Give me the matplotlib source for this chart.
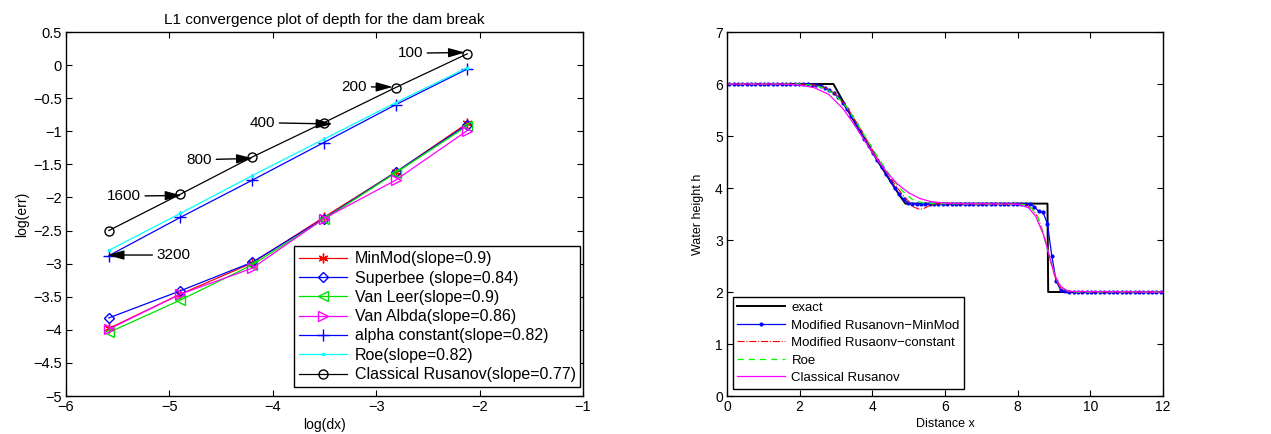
import numpy as np
import matplotlib
matplotlib.use("Agg")
import matplotlib.pyplot as plt

plt.rcParams['font.family'] = ['Liberation Sans', 'DejaVu Sans']
plt.rcParams['axes.unicode_minus'] = True

# ---------------- convergence data ----------------
cells = [100, 200, 400, 800, 1600, 3200]
log_dx = [-2.120, -2.813, -3.507, -4.200, -4.893, -5.586]

err_minmod = [-0.88, -1.62, -2.30, -2.99, -3.46, -3.98]
err_superbee = [-0.90, -1.62, -2.32, -2.98, -3.41, -3.82]
err_vanleer = [-0.92, -1.63, -2.33, -3.02, -3.55, -4.04]
err_vanalbda = [-0.99, -1.74, -2.32, -3.07, -3.46, -3.99]
err_alpha = [-0.06, -0.60, -1.17, -1.74, -2.30, -2.88]
err_roe = [-0.04, -0.57, -1.12, -1.67, -2.24, -2.80]
err_rusanov = [0.17, -0.34, -0.87, -1.39, -1.95, -2.50]

conv_labels = ["MinMod(slope=0.9)", "Superbee (slope=0.84)", "Van Leer(slope=0.9)",
               "Van Albda(slope=0.86)", "alpha constant(slope=0.82)", "Roe(slope=0.82)",
               "Classical Rusanov(slope=0.77)"]

# annotation text positions (log(dx), log(err)) for each mesh label
ann_text = ["100", "200", "400", "800", "1600", "3200"]
ann_text_xy = [(-2.67, 0.18), (-3.21, -0.33), (-4.10, -0.87), (-4.71, -1.43),
               (-5.44, -1.98), (-4.96, -2.87)]
ann_target_xy = [(-2.14, 0.19), (-2.84, -0.33), (-3.42, -0.89), (-4.19, -1.41),
                 (-4.88, -1.97), (-5.60, -2.87)]

# ---------------- dam break profiles ----------------
exact_x = [0.0, 2.93, 3.30, 3.60, 3.90, 4.20, 4.50, 4.75, 4.91, 8.82, 8.84, 12.0]
exact_h = [6.0, 6.0, 5.53, 5.16, 4.81, 4.46, 4.13, 3.86, 3.70, 3.70, 2.0, 2.0]

minmod_x = list(np.round(0.06 + 0.12 * np.arange(100), 2))
minmod_h = ([6.0] * 19 +
            [5.99, 5.98, 5.96, 5.93, 5.88, 5.82, 5.75, 5.64, 5.51, 5.38,
             5.24, 5.09, 4.95, 4.81, 4.67, 4.53, 4.40, 4.26, 4.13, 4.00,
             3.88, 3.78, 3.72, 3.70] +
            [3.70] * 26 +
            [3.69, 3.64, 3.55, 3.53, 3.31, 2.69, 2.21, 2.04, 2.01] +
            [2.0] * 22)

const_x = [0.0, 2.0, 2.4, 2.7, 3.0, 3.3, 3.6, 3.9, 4.2, 4.5, 4.8, 5.0, 5.15, 5.3,
           5.4, 5.6, 5.8, 8.2, 8.4, 8.55, 8.7, 8.8, 8.9, 9.0, 9.1, 9.2, 9.35, 9.5, 12.0]
const_h = [6.0, 6.0, 5.98, 5.93, 5.80, 5.56, 5.22, 4.86, 4.50, 4.18, 3.90, 3.74, 3.63,
           3.59, 3.60, 3.67, 3.70, 3.69, 3.60, 3.45, 3.15, 2.90, 2.60, 2.35, 2.17,
           2.07, 2.02, 2.0, 2.0]

roe_x = [0.0, 2.0, 2.4, 2.7, 3.0, 3.3, 3.6, 3.9, 4.2, 4.5, 4.8, 5.1, 5.4, 5.7,
         8.2, 8.4, 8.55, 8.7, 8.8, 8.9, 9.0, 9.1, 9.2, 9.35, 9.5, 12.0]
roe_h = [6.0, 6.0, 5.97, 5.92, 5.78, 5.55, 5.22, 4.88, 4.54, 4.23, 3.96, 3.78, 3.71,
         3.70, 3.68, 3.60, 3.45, 3.12, 2.88, 2.62, 2.38, 2.20, 2.09, 2.03, 2.0, 2.0]

rus_x = [0.0, 1.5, 2.0, 2.4, 2.8, 3.2, 3.5, 3.8, 4.1, 4.4, 4.7, 5.0, 5.3, 5.6, 6.0,
         6.5, 8.0, 8.3, 8.5, 8.7, 8.8, 8.9, 9.0, 9.1, 9.2, 9.35, 9.5, 12.0]
rus_h = [6.0, 6.0, 5.98, 5.93, 5.80, 5.52, 5.22, 4.90, 4.58, 4.30, 4.07, 3.91, 3.80,
         3.74, 3.71, 3.70, 3.69, 3.62, 3.45, 3.12, 2.88, 2.62, 2.38, 2.20, 2.10,
         2.03, 2.01, 2.0]

dam_labels = ["exact", "Modified Rusanovn\u2212MinMod", "Modified Rusaonv\u2212constant",
              "Roe", "Classical Rusanov"]

# ---------------- figure ----------------
fig = plt.figure(figsize=(12.71, 4.34), dpi=100)
ax1 = fig.add_axes([66 / 1271, 38 / 434, (583 - 66) / 1271, (396 - 32) / 434])
ax2 = fig.add_axes([727 / 1271, 38 / 434, (1163 - 727) / 1271, (396 - 32) / 434])

for ax, fs in ((ax1, 10.5), (ax2, 10)):
    ax.tick_params(direction='in', top=True, right=True, labelsize=fs,
                   length=4, width=0.8, pad=3)
    for s in ax.spines.values():
        s.set_linewidth(1.0)

lw = 0.9
ax1.plot(log_dx, err_minmod, color='#ff0000', marker=(6, 2, 0), ms=7, lw=lw,
         label=conv_labels[0])
ax1.plot(log_dx, err_superbee, color='#0000ff', marker='D', ms=5.5, mfc='none', lw=lw,
         label=conv_labels[1])
ax1.plot(log_dx, err_vanleer, color='#00e000', marker='<', ms=7, mfc='none', lw=lw,
         label=conv_labels[2])
ax1.plot(log_dx, err_vanalbda, color='#ff00ff', marker='>', ms=7, mfc='none', lw=lw,
         label=conv_labels[3])
ax1.plot(log_dx, err_alpha, color='#0000ff', marker='+', ms=8, lw=lw,
         label=conv_labels[4])
ax1.plot(log_dx, err_roe, color='#00ffff', marker='.', ms=3, lw=lw,
         label=conv_labels[5])
ax1.plot(log_dx, err_rusanov, color='black', marker='o', ms=6.5, mfc='none', lw=lw,
         label=conv_labels[6])

for t, txy, pxy in zip(ann_text, ann_text_xy, ann_target_xy):
    ax1.annotate(t, xy=pxy, xytext=txy, fontsize=11, ha='center', va='center',
                 arrowprops=dict(arrowstyle='-|>,head_length=1.0,head_width=0.28',
                                 color='black', lw=1.0, shrinkA=1, shrinkB=0,
                                 mutation_scale=10))

ax1.set_xlim(-6, -1)
ax1.set_ylim(-5, 0.5)
ax1.set_xticks(np.arange(-6, -0.5, 1))
ax1.set_yticks(np.arange(-5, 0.75, 0.5))
ax1.set_yticklabels([f"{v:g}".replace('-', '\u2212') for v in np.arange(-5, 0.75, 0.5)])
ax1.set_xlabel("log(dx)", fontsize=10, labelpad=3)
ax1.set_ylabel("log(err)", fontsize=10, labelpad=3)
ax1.set_title("L1 convergence plot of depth for the dam break", fontsize=11, pad=6)
leg1 = ax1.legend(loc='lower right', bbox_to_anchor=(0.995, 0.025), fontsize=11.5,
                  frameon=True, fancybox=False, edgecolor='black', framealpha=1,
                  borderpad=0.3, labelspacing=0.27, handlelength=3.0,
                  handletextpad=0.5, borderaxespad=0)
leg1.get_frame().set_linewidth(1.0)

ax2.plot(exact_x, exact_h, color='black', lw=1.4, label=dam_labels[0])
ax2.plot(minmod_x, minmod_h, color='#0000ff', lw=0.9, marker='.', ms=4,
         label=dam_labels[1])
ax2.plot(const_x, const_h, color='#ff0000', lw=0.8, ls='-.', label=dam_labels[2])
ax2.plot(roe_x, roe_h, color='#00ff00', lw=0.9, ls=(0, (5, 4)), label=dam_labels[3])
ax2.plot(rus_x, rus_h, color='#ff00ff', lw=0.9, label=dam_labels[4])

ax2.set_xlim(0, 12)
ax2.set_ylim(0, 7)
ax2.set_xticks(np.arange(0, 13, 2))
ax2.set_yticks(np.arange(0, 8, 1))
ax2.set_xlabel("Distance x", fontsize=9, labelpad=3)
ax2.set_ylabel("Water height h", fontsize=9, labelpad=8)
leg2 = ax2.legend(loc='lower left', bbox_to_anchor=(0.013, 0.02), fontsize=9.5,
                  frameon=True, fancybox=False, edgecolor='black', framealpha=1,
                  borderpad=0.35, labelspacing=0.4, handlelength=3.6,
                  handletextpad=0.5, borderaxespad=0)
leg2.get_frame().set_linewidth(1.0)

fig.savefig("out.png", dpi=100)
